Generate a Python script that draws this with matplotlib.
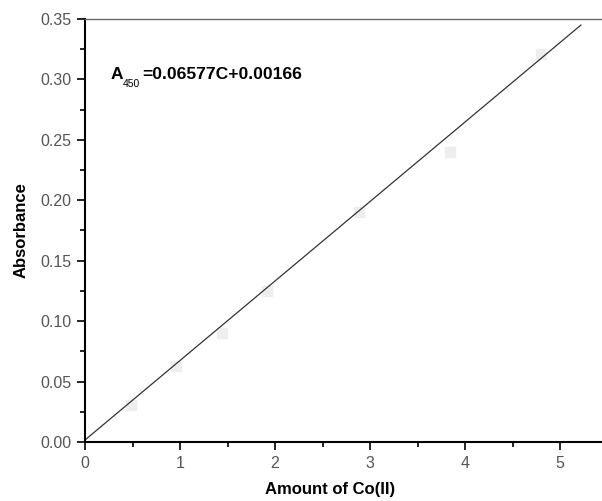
import matplotlib.pyplot as plt
import matplotlib as mpl
import numpy as np
from matplotlib.ticker import MultipleLocator

mpl.rcParams.update({
    'font.family': 'sans-serif',
    'font.sans-serif': ['Liberation Sans'],
})

# data
amount = [0.48, 0.96, 1.44, 1.92, 2.88, 3.84, 4.8]
absorbance = [0.031, 0.063, 0.090, 0.125, 0.190, 0.240, 0.321]
slope = 0.06577
intercept = 0.00166
fit_x = [0.0, 5.22]

W, H = 602, 501
fig = plt.figure(figsize=(W / 100, H / 100), dpi=100)
ax = fig.add_axes([85 / W, 59 / H, 517 / W, 423 / H])

ax.scatter(amount, absorbance, marker='s', s=45, color='#eeeeee', zorder=1)
fx = np.array(fit_x)
ax.plot(fx, slope * fx + intercept, color='#333333', lw=0.9, zorder=2)

ax.set_xlim(0, 517 / 95)
ax.set_ylim(0, 0.35)
ax.xaxis.set_major_locator(MultipleLocator(1))
ax.xaxis.set_minor_locator(MultipleLocator(0.5))
ax.yaxis.set_major_locator(MultipleLocator(0.05))
ax.yaxis.set_minor_locator(MultipleLocator(0.025))
ax.yaxis.set_major_formatter(mpl.ticker.FormatStrFormatter('%.2f'))

ax.spines['right'].set_visible(False)
ax.spines['top'].set_color('#666666')
ax.spines['top'].set_linewidth(1.0)
ax.spines['left'].set_linewidth(1.5)
ax.spines['bottom'].set_linewidth(1.5)
ax.tick_params(which='major', direction='out', length=6, width=1.2,
               labelsize=11.5, labelcolor='#555555', pad=4)
ax.tick_params(which='minor', direction='out', length=3.5, width=1.2)
ax.tick_params(top=False, right=False, which='both')

ax.set_xlabel('Amount of Co(II)', fontsize=12, fontweight='bold', labelpad=8)
ax.xaxis.set_label_coords((330 - 85) / 517, -0.095)
ax.set_ylabel('Absorbance', fontsize=12, fontweight='bold', labelpad=8)

# fit equation, subscript drawn as a separate smaller text
fig.text(111 / W, 1 - 79 / H, 'A', fontsize=12.5, fontweight='bold', va='baseline')
fig.text(123 / W, 1 - 87 / H, '450', fontsize=7.5, va='baseline')
fig.text(142 / W, 1 - 79 / H, '=0.06577C+0.00166', fontsize=12.6,
         fontweight='bold', va='baseline')

plt.savefig('out.png', dpi=100)
plt.close()
